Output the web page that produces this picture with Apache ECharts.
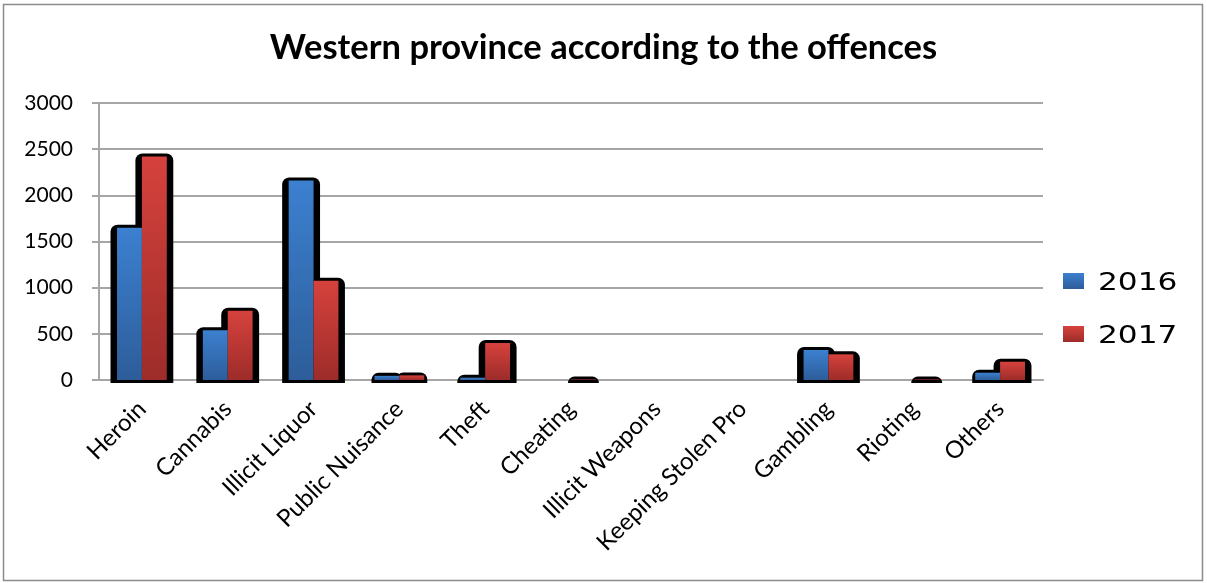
<!DOCTYPE html>
<html>
<head>
<meta charset="utf-8">
<title>Western province according to the offences</title>
<script src="https://cdn.jsdelivr.net/npm/echarts@6/dist/echarts.min.js"></script>
<style>
  html, body { margin: 0; padding: 0; background: #ffffff; }
  #chart { width: 1207px; height: 583px; }
</style>
</head>
<body>
<div id="chart"></div>
<script>
// Offences recorded in the Western province, by type and year
const categories = ['Heroin', 'Cannabis', 'Illicit Liquor', 'Public Nuisance', 'Theft', 'Cheating',
  'Illicit Weapons', 'Keeping Stolen Pro', 'Gambling', 'Rioting', 'Others'];
const values2016 = [1650, 540, 2160, 45, 25, 0, 0, 0, 325, 0, 79];
const values2017 = [2420, 750, 1075, 50, 400, 5, 0, 0, 278, 5, 198];
const yearNames = ['2016', '2017'];
const yTicks = [0, 500, 1000, 1500, 2000, 2500, 3000];

const BAR_SHARE = 0.29; // bar width as a share of the category band

function grad(top, bottom) {
  return new echarts.graphic.LinearGradient(0, 0, 0, 1, [
    { offset: 0, color: top },
    { offset: 1, color: bottom }
  ]);
}
const yearColors = [grad('#3c80d0', '#2d5d9a'), grad('#d6423d', '#9d2c29')];

// Dark rounded backdrop drawn behind every non-empty bar
function renderShadow(params, api) {
  const i = api.value(0);
  const bandW = api.size([1, 0])[0];
  const barW = bandW * BAR_SHARE;
  const base = api.coord([i, 0]);
  const children = [];
  [1, 2].forEach(function (dim, k) {
    const v = api.value(dim);
    if (!v) return;
    const top = api.coord([i, v]);
    const cx = base[0] + (k === 0 ? -1 : 1) * barW / 2;
    const tall = base[1] - top[1] > 8;
    const pad = tall ? 6.5 : 3;
    children.push({
      type: 'rect',
      shape: {
        x: cx - barW / 2 - pad,
        y: top[1] - 3,
        width: barW + pad * 2,
        height: base[1] - top[1] + 6,
        r: [7, 7, 0, 0]
      },
      style: { fill: '#000000' }
    });
  });
  return { type: 'group', children: children };
}

// Key at the right: a gradient swatch and a widened year label per series
function legendItems() {
  return yearNames.map(function (name, k) {
    const y = 272 + k * 53;
    return {
      type: 'group',
      silent: true,
      children: [
        {
          type: 'rect',
          shape: { x: 1063, y: y + 1, width: 21, height: 16 },
          style: { fill: yearColors[k] }
        },
        {
          type: 'text',
          x: 1098,
          y: y + 12,
          scaleX: 1.3,
          style: {
            text: name,
            font: '24px "DejaVu Sans"',
            fill: '#000000',
            textAlign: 'left',
            textVerticalAlign: 'middle'
          }
        }
      ]
    };
  });
}

const chart = echarts.init(document.getElementById('chart'), null, { renderer: 'canvas' });

chart.setOption({
  backgroundColor: '#ffffff',
  animation: false,
  title: {
    text: 'Western province according to the offences',
    left: 'center',
    top: 25,
    textStyle: { fontFamily: 'Lato', fontWeight: 'bold', fontSize: 34.5, color: '#000000' }
  },
  grid: { left: 99, right: 164, top: 103, bottom: 203, containLabel: false },
  xAxis: {
    type: 'category',
    data: categories,
    axisLine: { show: true, lineStyle: { color: '#a6a6a6', width: 2 } },
    axisTick: { show: false },
    axisLabel: {
      rotate: 45,
      interval: 0,
      margin: 25,
      fontFamily: 'Lato',
      fontSize: 24,
      color: '#000000'
    }
  },
  yAxis: {
    type: 'value',
    min: yTicks[0],
    max: yTicks[yTicks.length - 1],
    interval: 500,
    axisLine: { show: true, lineStyle: { color: '#a6a6a6', width: 2 } },
    axisTick: { show: true, length: 7, lineStyle: { color: '#a6a6a6', width: 2 } },
    splitLine: { show: true, lineStyle: { color: '#a6a6a6', width: 2 } },
    axisLabel: {
      margin: 26,
      fontFamily: 'Lato',
      fontSize: 21,
      color: '#000000',
      formatter: function (v) { return String(v); }
    }
  },
  series: [
    {
      name: 'shadow',
      type: 'custom',
      renderItem: renderShadow,
      data: categories.map(function (c, i) { return [i, values2016[i], values2017[i]]; }),
      encode: { x: 0, y: [1, 2] },
      z: 1,
      silent: true
    },
    {
      name: yearNames[0],
      type: 'bar',
      data: values2016,
      barWidth: (BAR_SHARE * 100) + '%',
      barGap: '0%',
      itemStyle: { color: yearColors[0] },
      z: 3
    },
    {
      name: yearNames[1],
      type: 'bar',
      data: values2017,
      barWidth: (BAR_SHARE * 100) + '%',
      barGap: '0%',
      itemStyle: { color: yearColors[1] },
      z: 3
    }
  ],
  graphic: [
    {
      type: 'rect',
      shape: { x: 3.5, y: 4.5, width: 1199, height: 576 },
      style: { fill: 'none', stroke: '#8c8c8c', lineWidth: 1.5 },
      silent: true
    }
  ].concat(legendItems())
});
</script>
</body>
</html>
